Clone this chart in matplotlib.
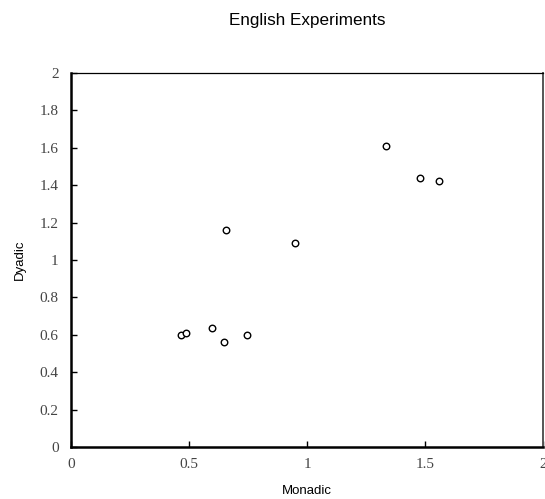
import matplotlib
matplotlib.use("Agg")
import matplotlib.pyplot as plt
from matplotlib.ticker import FuncFormatter

monadic = [1.336, 1.479, 1.558, 0.658, 0.948, 0.467, 0.489, 0.597, 0.648, 0.747]
dyadic = [1.610, 1.441, 1.421, 1.159, 1.089, 0.599, 0.612, 0.638, 0.560, 0.599]
x_ticks = [0, 0.5, 1, 1.5, 2]
y_ticks = [0, 0.2, 0.4, 0.6, 0.8, 1, 1.2, 1.4, 1.6, 1.8, 2]

fig = plt.figure(figsize=(5.45, 4.99), dpi=100)
ax = fig.add_axes([71/545, 52/499, 472/545, 374/499])

ax.scatter(monadic, dyadic, s=22, facecolors="white", edgecolors="black", linewidths=1.0, zorder=3)

ax.set_xlim(0, 2)
ax.set_ylim(0, 2)
ax.set_xticks(x_ticks)
ax.set_yticks(y_ticks)
fmt = FuncFormatter(lambda v, p: ("%g" % v))
ax.xaxis.set_major_formatter(fmt)
ax.yaxis.set_major_formatter(fmt)
ax.tick_params(direction="in", length=4, width=1, top=False, right=False, colors="black")
ax.tick_params(axis="x", pad=8)
ax.tick_params(axis="y", pad=9)
for lab in ax.get_xticklabels() + ax.get_yticklabels():
    lab.set_fontfamily("Liberation Serif")
    lab.set_fontsize(11)
    lab.set_color("#444444")

ax.spines["left"].set_linewidth(1.8)
ax.spines["bottom"].set_linewidth(1.8)
ax.spines["top"].set_linewidth(0.9)
ax.spines["right"].set_linewidth(1.4)
ax.spines["right"].set_color("#555555")

ax.set_xlabel("Monadic", fontsize=9.5, fontfamily="Liberation Sans", labelpad=10)
ax.set_ylabel("Dyadic", fontsize=9.5, fontfamily="Liberation Sans", labelpad=10)

fig.text(307/545, 1 - 20/499, "English Experiments", ha="center", va="center",
         fontsize=12.3, fontfamily="Liberation Sans")

fig.savefig("out.png", dpi=100, facecolor="white")
